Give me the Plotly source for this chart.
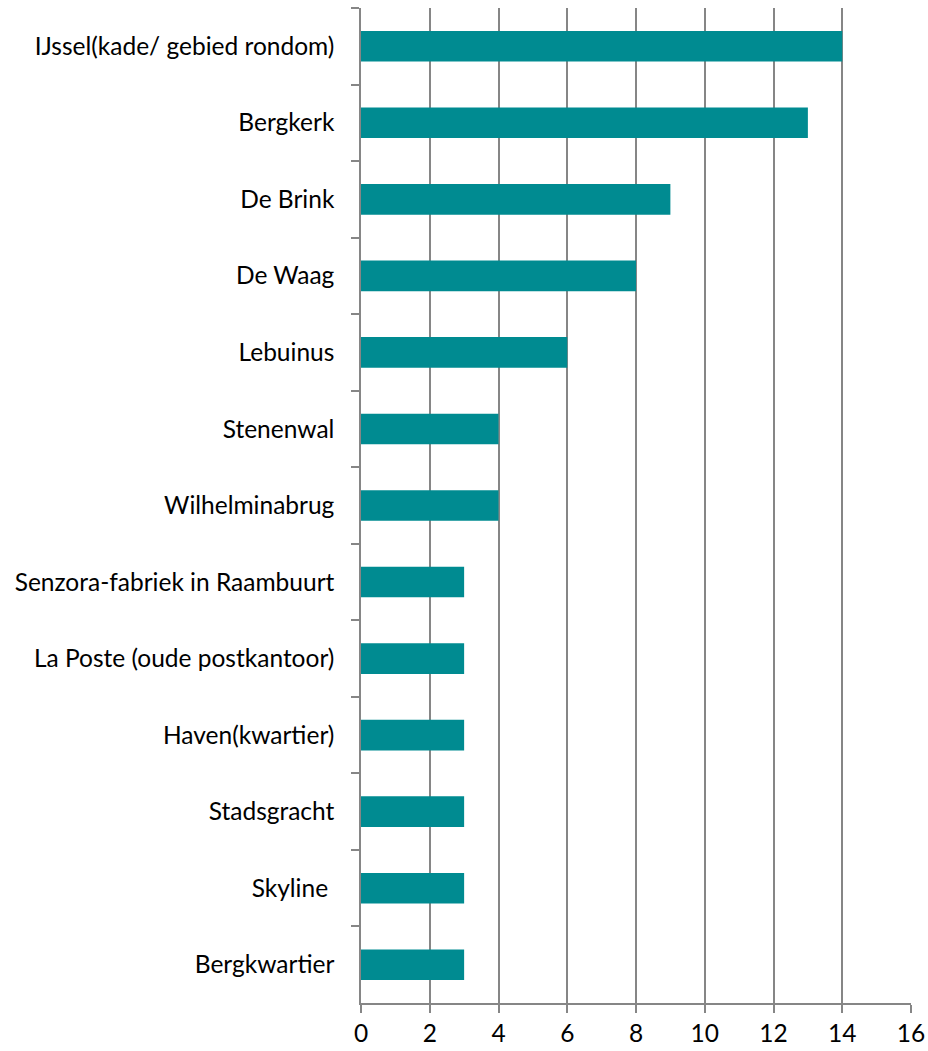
import plotly.graph_objects as go

categories = [
    "IJssel(kade/ gebied rondom)",
    "Bergkerk",
    "De Brink",
    "De Waag",
    "Lebuinus",
    "Stenenwal",
    "Wilhelminabrug",
    "Senzora-fabriek in Raambuurt",
    "La Poste (oude postkantoor)",
    "Haven(kwartier)",
    "Stadsgracht",
    "Skyline ",
    "Bergkwartier",
]
values = [14, 13, 9, 8, 6, 4, 4, 3, 3, 3, 3, 3, 3]
x_ticks = [0, 2, 4, 6, 8, 10, 12, 14, 16]

FONT = "Lato"
FSIZE = 24.5
GRID = "#868686"

fig = go.Figure(go.Bar(
    x=values,
    y=categories,
    orientation="h",
    marker=dict(color="#008B91", line=dict(width=0)),
))

fig.update_layout(
    width=928,
    height=1051,
    margin=dict(l=361, r=17, t=8, b=48, autoexpand=False),
    paper_bgcolor="white",
    plot_bgcolor="white",
    bargap=0.6,
    showlegend=False,
    font=dict(family=FONT, size=FSIZE, color="#000000"),
)

fig.update_xaxes(
    range=[0, 16],
    tickvals=x_ticks,
    ticktext=[str(v) for v in x_ticks],
    showgrid=True,
    gridcolor=GRID,
    gridwidth=1.5,
    zeroline=False,
    showline=True,
    linecolor=GRID,
    linewidth=1.5,
    ticks="outside",
    ticklen=8,
    tickcolor=GRID,
    tickwidth=1.5,
    tickfont=dict(family=FONT, size=FSIZE, color="#000000"),
    automargin=False,
    fixedrange=True,
)

fig.update_yaxes(
    categoryorder="array",
    categoryarray=categories,
    autorange="reversed",
    showgrid=False,
    zeroline=False,
    showline=True,
    linecolor=GRID,
    linewidth=1.5,
    ticks="outside",
    tickson="boundaries",
    ticklen=8,
    tickcolor=GRID,
    tickwidth=1.5,
    ticklabelstandoff=20,
    tickfont=dict(family=FONT, size=FSIZE, color="#000000"),
    automargin=False,
    fixedrange=True,
)

# remove the browser's default body margin so the figure fills the window exactly
fig.write_html(
    "out.html",
    config={"displayModeBar": False},
    post_script="document.body.style.margin='0';document.body.style.overflow='hidden';",
)
